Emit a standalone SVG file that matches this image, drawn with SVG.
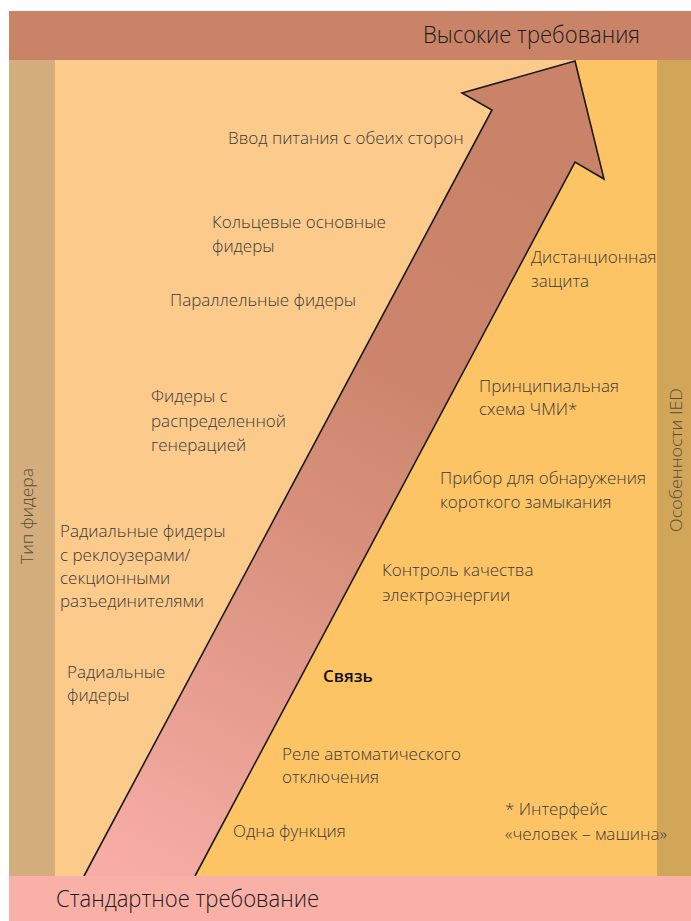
<svg xmlns="http://www.w3.org/2000/svg" width="691" height="921" viewBox="0 0 691 921">
<defs>
<linearGradient id="arrowGrad" gradientUnits="userSpaceOnUse" x1="140" y1="876" x2="520" y2="150">
<stop offset="0" stop-color="#F7ADA5"/>
<stop offset="0.35" stop-color="#DF9786"/>
<stop offset="0.7" stop-color="#CC856C"/>
<stop offset="1" stop-color="#C98368"/>
</linearGradient>
<style>
.t{font-family:"Open Sans","Noto Sans","DejaVu Sans",sans-serif;font-weight:300;font-size:17px;fill:#3a3a3a}
.b{font-weight:600;fill:#111}
.h{font-family:"Open Sans","Noto Sans","DejaVu Sans",sans-serif;font-weight:300;font-size:23px;fill:#1a1a1a}
.s{font-family:"Open Sans","Noto Sans","DejaVu Sans",sans-serif;font-weight:300;font-size:17px;fill:#5a4c3c}
</style>
</defs>
<rect width="691" height="921" fill="#ffffff"/>
<g id="panels">
<rect x="55" y="60" width="602" height="816" fill="#FCCB8C"/>
<polygon points="575,60 657,60 657,876 195,876 575,162" fill="#FDC466"/>
<rect x="9" y="60" width="46" height="816" fill="#D3AD7B"/>
<rect x="657" y="60" width="34" height="816" fill="#D2A659"/>
</g>
<g id="arrow">
<path d="M84,876 L492,110 L462,93 L575,61 L604,179 L575,162 L195,876 Z" fill="url(#arrowGrad)"/>
<path d="M84,876 L492,110 L462,93 L575,61 L604,179 L575,162 L195,876" fill="none" stroke="#1a1a1a" stroke-width="1.6" stroke-linejoin="miter"/>
</g>
<g id="top-band">
<rect x="9" y="11" width="682" height="49" fill="#C98468"/>
<text class="h" x="423" y="43" textLength="217" lengthAdjust="spacingAndGlyphs">Высокие требования</text>
</g>
<g id="bottom-band">
<rect x="9" y="876" width="682" height="45" fill="#F8B0A7"/>
<text class="h" x="56" y="907" textLength="263" lengthAdjust="spacingAndGlyphs">Стандартное требование</text>
</g>
<g id="side-labels">
<text class="s" transform="translate(33,516) rotate(-90)" text-anchor="middle" textLength="96" lengthAdjust="spacingAndGlyphs">Тип фидера</text>
<text class="s" transform="translate(682,460) rotate(-90)" text-anchor="middle" textLength="144" lengthAdjust="spacingAndGlyphs">Особенности IED</text>
</g>
<g id="feeder-types">
<text class="t" x="228" y="144">Ввод питания с обеих сторон</text>
<text class="t" x="212" y="228">Кольцевые основные</text>
<text class="t" x="212" y="252">фидеры</text>
<text class="t" x="170" y="306">Параллельные фидеры</text>
<text class="t" x="151" y="402">Фидеры с</text>
<text class="t" x="151" y="427">распределенной</text>
<text class="t" x="151" y="451">генерацией</text>
<text class="t" x="60" y="537">Радиальные фидеры</text>
<text class="t" x="60" y="561">с реклоузерами/</text>
<text class="t" x="60" y="584">секционными</text>
<text class="t" x="60" y="607">разъединителями</text>
<text class="t" x="67" y="678">Радиальные</text>
<text class="t" x="67" y="701">фидеры</text>
</g>
<g id="ied-features">
<text class="t" x="531" y="263">Дистанционная</text>
<text class="t" x="531" y="287">защита</text>
<text class="t" x="479" y="392">Принципиальная</text>
<text class="t" x="479" y="415">схема ЧМИ*</text>
<text class="t" x="440" y="484">Прибор для обнаружения</text>
<text class="t" x="440" y="508">короткого замыкания</text>
<text class="t" x="382" y="576">Контроль качества</text>
<text class="t" x="382" y="601">электроэнергии</text>
<text class="t b" x="323" y="682">Связь</text>
<text class="t" x="282" y="760">Реле автоматического</text>
<text class="t" x="282" y="783">отключения</text>
<text class="t" x="233" y="837">Одна функция</text>
<text class="t" x="505" y="815">* Интерфейс</text>
<text class="t" x="505" y="840">«человек – машина»</text>
</g>
</svg>
